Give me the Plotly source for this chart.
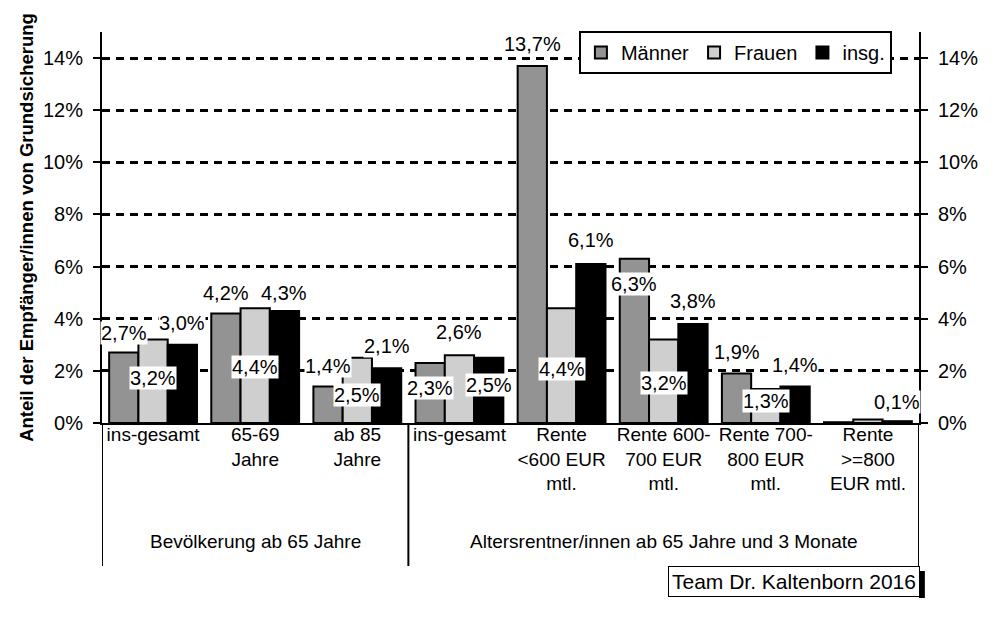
import plotly.graph_objects as go

# ---------------- data ----------------
categories = [
    "ins-gesamt",
    "65-69<br>Jahre",
    "ab 85<br>Jahre",
    "ins-gesamt",
    "Rente<br>&lt;600 EUR<br>mtl.",
    "Rente 600-<br>700 EUR<br>mtl.",
    "Rente 700-<br>800 EUR<br>mtl.",
    "Rente<br>&gt;=800<br>EUR mtl.",
]
groups = ["Bevölkerung ab 65 Jahre", "Altersrentner/innen ab 65 Jahre und 3 Monate"]
group_sizes = [3, 5]

series_names = ["Männer", "Frauen", "insg."]
maenner = [2.7, 4.2, 1.4, 2.3, 13.7, 6.3, 1.9, 0.03]
frauen = [3.2, 4.4, 2.5, 2.6, 4.4, 3.2, 1.3, 0.13]
insg = [3.0, 4.3, 2.1, 2.5, 6.1, 3.8, 1.4, 0.07]

y_tickvals = [0, 2, 4, 6, 8, 10, 12, 14]
y_ticktext = ["0%", "2%", "4%", "6%", "8%", "10%", "12%", "14%"]

y_title = "Anteil der Empfänger/innen von Grundsicherung"
source_text = "Team Dr. Kaltenborn 2016"

# ---------------- styling / label placement ----------------
colors = ["#939393", "#cfcfcf", "#000000"]
# vertical pixel shift of each value label relative to its bar top (None = no label)
label_shift = [
    [20, 21, 21, -25, 22, -25, 21, None],
    [-38, -59, -37, 23, -61, -43, -12, None],
    [22, 18, 22, -27, 24, 23, 22, 19],
]

FONT = "Liberation Sans, Arial, sans-serif"
BODY = 8                      # default page margin around the plot div
W, H = 998 - 2 * BODY, 617 - 2 * BODY
L, R, T, B = 94, 52, 24, 186
plot_h = H - T - B
plot_w = W - L - R
bargap = 0.14


def py(screen_y):
    """screen pixel row -> paper y"""
    return 1 - (screen_y - BODY - T) / plot_h


def px(screen_x):
    """screen pixel column -> paper x"""
    return (screen_x - BODY - L) / plot_w


xs = list(range(len(categories)))
series_vals = [maenner, frauen, insg]

fig = go.Figure()
for name, vals, col in zip(series_names, series_vals, colors):
    fig.add_trace(go.Bar(
        x=xs, y=vals, name=name,
        marker=dict(color=col, line=dict(color="black", width=2)),
        hoverinfo="skip",
    ))

# invisible trace to carry the right-hand axis
fig.add_trace(go.Scatter(x=[xs[0]], y=[0], yaxis="y2", mode="markers",
                         marker=dict(opacity=0), showlegend=False, hoverinfo="skip"))

annotations = []
bw = (1 - bargap) / len(series_names)
for k, vals in enumerate(series_vals):
    for i, v in enumerate(vals):
        sh = label_shift[k][i]
        if sh is None:
            continue
        txt = ("%.1f" % v).replace(".", ",") + "%"
        annotations.append(dict(
            x=i + (k - 1) * bw, y=v, xref="x", yref="y",
            text=txt, showarrow=False, yshift=sh,
            font=dict(family=FONT, size=20, color="black"),
            bgcolor="white", borderpad=0,
        ))

# group labels and dividers
shapes = []
start = 0
bounds = [-0.5]
for g, n in zip(groups, group_sizes):
    center = start + (n - 1) / 2
    annotations.append(dict(
        x=center, y=py(541), xref="x", yref="paper", yanchor="middle",
        text=g, showarrow=False, font=dict(family=FONT, size=19, color="black"),
    ))
    start += n
    bounds.append(start - 0.5)
for b in bounds:
    shapes.append(dict(type="line", xref="x", yref="paper", x0=b, x1=b,
                       y0=0, y1=py(566), line=dict(color="black", width=2)))

# source box with a shadow on the right
src_top, src_bot = 565, 598
shapes.append(dict(type="rect", xref="paper", yref="paper",
                   x0=px(938), x1=px(944), y0=py(src_bot), y1=py(src_top + 6),
                   fillcolor="black", line=dict(width=0)))
annotations.append(dict(
    x=px(939), y=py((src_top + src_bot) / 2), xref="paper", yref="paper",
    xanchor="right", yanchor="middle",
    text=source_text, showarrow=False,
    font=dict(family=FONT, size=21, color="black"),
    bgcolor="white", bordercolor="black", borderwidth=1, borderpad=3,
))

yaxis_common = dict(
    range=[0, 15], tickvals=y_tickvals, ticktext=y_ticktext,
    ticks="outside", ticklen=7, tickwidth=2, tickcolor="black",
    showline=True, linewidth=2, linecolor="black",
    tickfont=dict(family=FONT, size=20, color="black"),
    zeroline=False, fixedrange=True, ticklabelstandoff=6,
)

fig.update_layout(
    width=W, height=H,
    margin=dict(l=L, r=R, t=T, b=B, pad=0),
    paper_bgcolor="white", plot_bgcolor="white",
    barmode="group", bargap=bargap, bargroupgap=0,
    font=dict(family=FONT, size=20, color="black"),
    xaxis=dict(
        range=[-0.5, len(categories) - 0.5], tickvals=xs, ticktext=categories,
        ticks="", showline=True, linewidth=2, linecolor="black",
        tickfont=dict(family=FONT, size=19, color="black"),
        showgrid=False, zeroline=False, ticklabelstandoff=-7,
    ),
    yaxis=dict(
        **yaxis_common,
        showgrid=True, gridcolor="black", gridwidth=3, griddash="8px,6px",
        title=dict(text="<b>" + y_title + "</b>",
                   font=dict(family=FONT, size=18.5, color="black"),
                   standoff=4),
    ),
    yaxis2=dict(**yaxis_common, overlaying="y", side="right", showgrid=False),
    legend=dict(
        orientation="h", x=px(590), xanchor="left",
        y=py(31), yanchor="top",
        bordercolor="black", borderwidth=2, bgcolor="white",
        font=dict(family=FONT, size=20, color="black"),
    ),
    annotations=annotations,
    shapes=shapes,
    showlegend=True,
)

fig.write_html("out.html")
